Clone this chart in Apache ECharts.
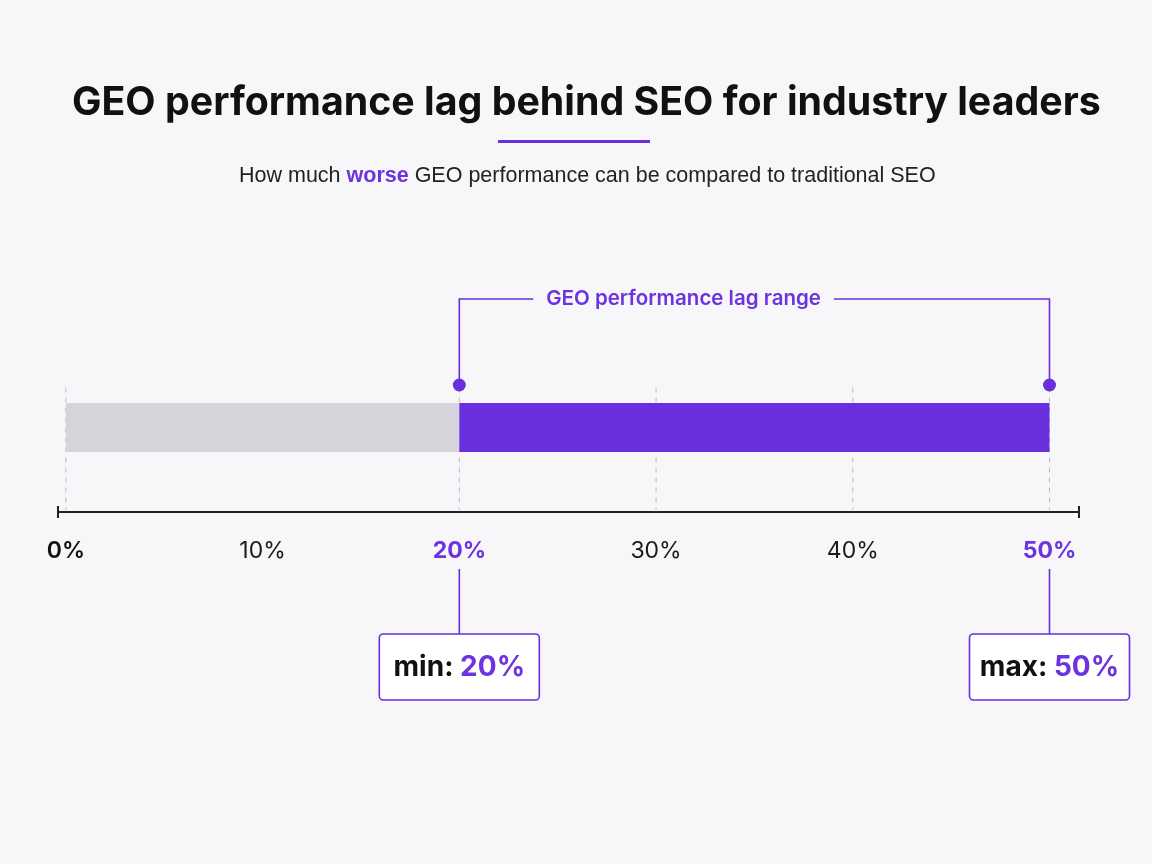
<!DOCTYPE html>
<html>
<head>
<meta charset="utf-8">
<script src="https://cdn.jsdelivr.net/npm/echarts@6/dist/echarts.min.js"></script>
<style>
    html, body { margin: 0; padding: 0; background: #f7f7fa; }
    #chart { width: 1152px; height: 864px; }
</style>
</head>
<body>
<div id="chart"></div>
<script>
    // data
    var categories = ['GEO lag'];
    var tickValues = [0, 10, 20, 30, 40, 50];
    var gridValues = [0, 20, 30, 40, 50];
    var baseValues = [20];      // 0% .. min, grey part
    var rangeValues = [30];     // min .. max, purple part
    var lagMin = 20;
    var lagMax = 50;
    var calloutNames = ['min', 'max'];
    var calloutValues = [lagMin, lagMax];

    var PURPLE = '#6a2fdc';
    var TEXT_PURPLE = '#6d33e0';
    var GREY = '#d5d4db';
    var FONT = 'Inter, "Noto Sans", sans-serif';
    var SUB_FONT = '"Liberation Sans", Arial, sans-serif';

    var chart = echarts.init(document.getElementById('chart'));

    chart.setOption({
        backgroundColor: '#f7f7fa',
        animation: false,
        title: [{
            text: 'GEO performance lag behind SEO for industry leaders',
            left: 67,
            top: 79,
            textStyle: { fontFamily: FONT, fontSize: 39.3, fontWeight: 700, color: '#111111' }
        }, {
            text: '{n|How much }{p|worse}{n| GEO performance can be compared to traditional SEO}',
            left: 234,
            top: 160,
            textStyle: {
                rich: {
                    n: { fontFamily: SUB_FONT, fontSize: 21.5, fontWeight: 'normal', color: '#222222' },
                    p: { fontFamily: SUB_FONT, fontSize: 21.5, fontWeight: 700, color: TEXT_PURPLE }
                }
            }
        }],
        graphic: [{
            type: 'rect',
            shape: { x: 498, y: 140, width: 152, height: 3 },
            style: { fill: PURPLE }
        }],
        grid: { left: 58, width: 1021, top: 343, height: 169 },
        xAxis: {
            type: 'value',
            min: -0.4,
            max: 51.5,
            axisLine: {
                show: true,
                symbol: ['rect', 'rect'],
                symbolSize: [12, 2],
                lineStyle: { color: '#222222', width: 2 }
            },
            axisTick: { show: false },
            splitLine: { show: false },
            axisLabel: {
                customValues: tickValues,
                margin: 28,
                formatter: function (v) {
                    if (v === lagMin || v === lagMax) return '{hi|' + v + '%}';
                    if (v === 0) return '{z|' + v + '%}';
                    return '{n|' + v + '%}';
                },
                rich: {
                    n: { fontFamily: FONT, fontSize: 23, color: '#1a1a1a' },
                    z: { fontFamily: FONT, fontSize: 23, fontWeight: 600, color: '#111111' },
                    hi: { fontFamily: FONT, fontSize: 23, fontWeight: 700, color: TEXT_PURPLE }
                }
            }
        },
        yAxis: {
            type: 'category',
            data: categories,
            show: false
        },
        series: [
            {
                // dashed guide lines
                type: 'custom',
                z: 1,
                silent: true,
                data: gridValues.map(function (v) { return [v, 0]; }),
                renderItem: function (params, api) {
                    var p = api.coord([api.value(0), 0]);
                    var bottom = params.coordSys.y + params.coordSys.height - 2;
                    return {
                        type: 'line',
                        shape: { x1: p[0], y1: p[1] - 40, x2: p[0], y2: bottom },
                        style: { stroke: '#b9b9c0', lineWidth: 1, lineDash: [5, 5] }
                    };
                }
            },
            {
                type: 'bar',
                stack: 'lag',
                z: 2,
                barWidth: 49,
                silent: true,
                itemStyle: { color: GREY },
                data: baseValues
            },
            {
                type: 'bar',
                stack: 'lag',
                z: 2,
                barWidth: 49,
                silent: true,
                itemStyle: { color: PURPLE },
                data: rangeValues
            },
            {
                // bracket over the range
                type: 'custom',
                z: 3,
                silent: true,
                data: [[lagMin, lagMax, 0]],
                renderItem: function (params, api) {
                    var a = api.coord([api.value(0), 0]);
                    var b = api.coord([api.value(1), 0]);
                    var dotY = a[1] - 42.5;
                    var topY = a[1] - 128.5;
                    var textX = a[0] + (b[0] - a[0]) * 0.38;
                    return {
                        type: 'group',
                        children: [{
                            type: 'polyline',
                            shape: { points: [[a[0], dotY], [a[0], topY], [b[0], topY], [b[0], dotY]] },
                            style: { stroke: PURPLE, lineWidth: 1.6, fill: null }
                        }, {
                            type: 'text',
                            style: {
                                text: 'GEO performance lag range',
                                x: textX, y: topY,
                                align: 'center', verticalAlign: 'middle',
                                fontFamily: FONT, fontSize: 20.5, fontWeight: 600,
                                fill: TEXT_PURPLE,
                                backgroundColor: '#f7f7fa',
                                padding: [0, 13]
                            }
                        }, {
                            type: 'circle',
                            shape: { cx: a[0], cy: dotY, r: 6.5 },
                            style: { fill: PURPLE }
                        }, {
                            type: 'circle',
                            shape: { cx: b[0], cy: dotY, r: 6.5 },
                            style: { fill: PURPLE }
                        }]
                    };
                }
            },
            {
                // min / max callouts under the axis
                type: 'custom',
                z: 3,
                silent: true,
                data: calloutValues.map(function (v) { return [v, 0]; }),
                renderItem: function (params, api) {
                    var p = api.coord([api.value(0), 0]);
                    var axisY = params.coordSys.y + params.coordSys.height;
                    var name = calloutNames[params.dataIndex];
                    var boxTop = axisY + 122;
                    return {
                        type: 'group',
                        children: [{
                            type: 'line',
                            shape: { x1: p[0], y1: axisY + 57, x2: p[0], y2: boxTop },
                            style: { stroke: PURPLE, lineWidth: 1.6 }
                        }, {
                            type: 'rect',
                            shape: { x: p[0] - 80, y: boxTop, width: 160, height: 66, r: 4 },
                            style: { fill: '#ffffff', stroke: PURPLE, lineWidth: 1.6 }
                        }, {
                            type: 'text',
                            style: {
                                text: '{k|' + name + ': }{v|' + api.value(0) + '%}',
                                x: p[0], y: boxTop + 34,
                                align: 'center', verticalAlign: 'middle',
                                rich: {
                                    k: { fontFamily: FONT, fontSize: 28, fontWeight: 700, fill: '#111111' },
                                    v: { fontFamily: FONT, fontSize: 28, fontWeight: 700, fill: TEXT_PURPLE }
                                }
                            }
                        }]
                    };
                }
            }
        ]
    });
</script>
</body>
</html>
